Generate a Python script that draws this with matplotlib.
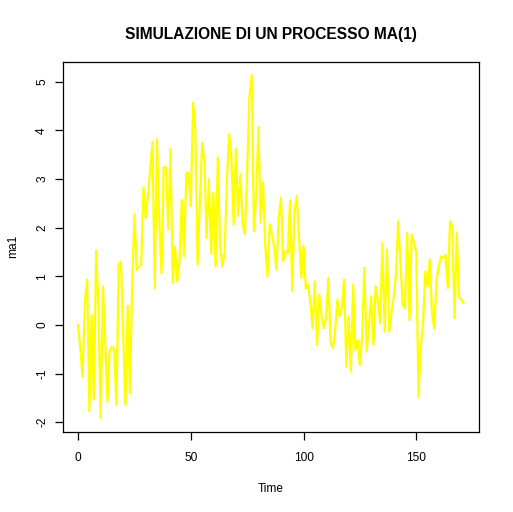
import numpy as np
import matplotlib
matplotlib.use("Agg")
import matplotlib.pyplot as plt

# simulated MA(1) series
ma1 = [
    0.0, -0.5, -1.07, 0.48, 0.93, -1.77, 0.19, -1.53, 1.53, 0.39,
    -1.92, 0.79, -0.3, -1.58, -0.52, -0.45, -0.5, -1.65, 1.24, 1.30,
    -0.2, -1.65, 0.39, -1.4, 0.9, 2.27, 1.13, 1.2, 1.25, 2.82,
    2.2, 2.65, 3.2, 3.76, 0.76, 3.82, 2.16, 1.06, 3.25, 3.23,
    1.96, 3.62, 0.86, 1.6, 0.89, 1.3, 2.57, 1.41, 3.13, 3.13,
    2.44, 4.57, 4.0, 1.24, 2.51, 3.75, 3.37, 1.79, 2.99, 1.47,
    2.71, 1.20, 3.44, 1.61, 1.20, 1.47, 2.96, 3.92, 3.44, 2.07,
    3.62, 2.24, 3.1, 2.07, 1.86, 3.17, 4.71, 5.13, 1.93, 2.69,
    4.07, 2.10, 2.93, 1.65, 1.0, 2.07, 1.86, 1.59, 1.14, 2.2,
    2.62, 1.31, 1.52, 1.48, 2.55, 0.70, 2.34, 2.65, 1.79, 0.97,
    1.62, 0.75, 0.83,
    0.48, -0.07, 0.89, -0.41, 0.62, 0.18, -0.07, 0.14, 0.96, -0.35,
    -0.48, -0.14, 0.52, 0.18, 0.35, 0.93, -0.86, 0.18, -0.96, 0.82,
    -0.52, -0.31, -0.82, -0.24, 1.17, -0.55, 0.0, 0.58, -0.41, 0.79,
    0.48, 0.03, 1.68,
    -0.14, 1.55, -0.14, 0.24, 0.58, 1.03, 2.13, 1.27, 0.41, 0.35,
    1.89, 0.1, 1.86, 1.68, 1.51, -1.48, -0.45, 0.03, 1.1, 0.79,
    1.34, 0.24, -0.07, 0.93, 1.2, 1.41, 1.37, 1.44, 0.76, 2.13,
    2.03, 0.14, 1.89, 0.58, 0.52, 0.45,
]
time = np.arange(len(ma1))
xticks = [0, 50, 100, 150]
yticks = [-2, -1, 0, 1, 2, 3, 4, 5]

plt.rcParams['font.family'] = ['Liberation Sans', 'DejaVu Sans']

W, H = 513, 512
fig = plt.figure(figsize=(W / 100, H / 100), dpi=100)
left, right, top, bottom = 62.7, 479, 61.7, 432
ax = fig.add_axes([left / W, 1 - bottom / H, (right - left) / W, (bottom - top) / H])

ax.plot(time, ma1, color="#ffff00", lw=1.6)

# R style limits: data range plus 4% each side
def r_lim(v):
    lo, hi = min(v), max(v)
    d = 0.04 * (hi - lo)
    return lo - d, hi + d

ax.set_xlim(*r_lim(time))
ax.set_ylim(*r_lim(ma1))
ax.set_xticks(xticks)
ax.set_yticks(yticks)
ax.set_xticklabels([str(t) for t in xticks])
ax.set_yticklabels([str(t) for t in yticks], rotation=90, va="center")
ax.tick_params(direction="out", length=5.5, width=0.9, labelsize=8.6, colors="black")
ax.tick_params(axis="x", pad=9)
ax.tick_params(axis="y", pad=5)
for s in ax.spines.values():
    s.set_linewidth(0.9)

ax.set_xlabel("Time", fontsize=8.6)
ax.xaxis.set_label_coords(0.5, -0.137)
ax.set_ylabel("ma1", fontsize=8.6)
ax.yaxis.set_label_coords(-0.105, 0.5)

fig.text((left + right) / 2 / W, 1 - 35 / H, "SIMULAZIONE DI UN PROCESSO MA(1)",
         ha="center", va="center", fontsize=11.2, fontweight="bold")

fig.savefig("out.png", dpi=100, facecolor="white")
